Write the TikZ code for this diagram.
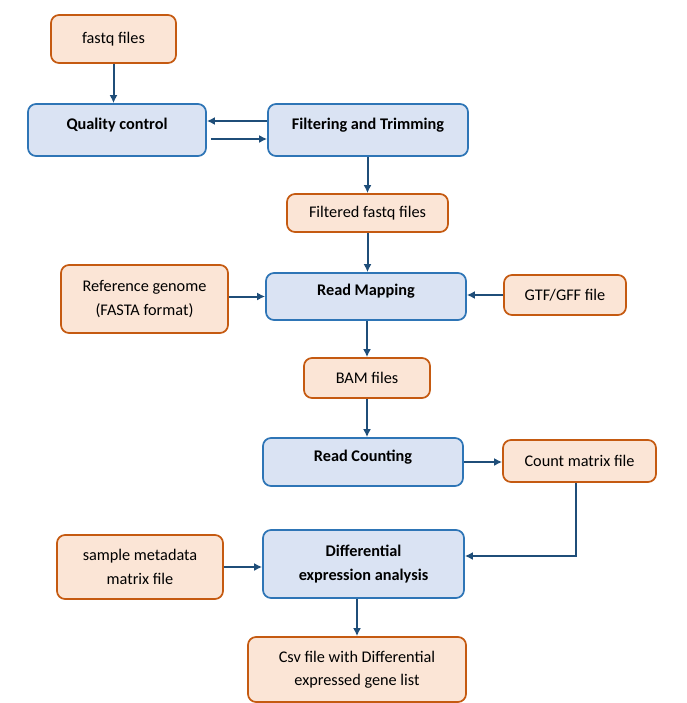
\documentclass[tikz,border=0pt]{standalone}
\usepackage{fontspec}
\setmainfont{Carlito}
\usepackage{tikz}
\usetikzlibrary{positioning}
\usetikzlibrary{arrows.meta}
\usetikzlibrary{calc}

\definecolor{filefill}{HTML}{FBE5D6}
\definecolor{filedraw}{HTML}{C55A11}
\definecolor{stepfill}{HTML}{DAE3F3}
\definecolor{stepdraw}{HTML}{2E75B6}
\definecolor{flowcol}{HTML}{1F4E79}

\tikzset{
  filebox/.style={draw=filedraw, fill=filefill, line width=1.3pt, rounded corners=6pt,
    inner sep=0pt, align=center, font=\fontsize{12.2}{17.5}\selectfont},
  stepbox/.style={draw=stepdraw, fill=stepfill, line width=1.3pt, rounded corners=6pt,
    inner sep=0pt, align=center, font=\fontsize{12.2}{18}\selectfont\bfseries},
  uptext/.style={text height=8.5pt, text depth=9.5pt},
  flow/.style={draw=flowcol, line width=1.5pt, -{Latex[length=6pt,width=6pt]}}
}

\begin{document}
\begin{tikzpicture}[x=0.75pt, y=-0.75pt]
  \useasboundingbox (0,0) rectangle (686,703);

  % input files and steps
  \node[filebox, minimum width=93.75pt, minimum height=36pt] (fastq) at (113.5,39) {fastq files};
  \node[stepbox, uptext, minimum width=133.5pt, minimum height=39pt] (qc) at (117,130) {Quality control};
  \node[stepbox, uptext, minimum width=150pt, minimum height=39pt] (filt) at (368,130) {Filtering and Trimming};
  \node[filebox, minimum width=120.75pt, minimum height=28.5pt] (filtered) at (367.5,213) {Filtered fastq files};
  \node[filebox, minimum width=125.25pt, minimum height=51pt] (ref) at (144.5,299) {Reference genome\\(FASTA format)};
  \node[stepbox, uptext, minimum width=150pt, minimum height=35.25pt] (map) at (366,296.5) {Read Mapping};
  \node[filebox, minimum width=91.5pt, minimum height=30pt] (gtf) at (565,295) {GTF/GFF file};
  \node[filebox, minimum width=94.5pt, minimum height=30pt] (bam) at (367,378) {BAM files};
  \node[stepbox, uptext, minimum width=150pt, minimum height=36pt] (count) at (363,462) {Read Counting};
  \node[filebox, minimum width=114.75pt, minimum height=31.5pt] (cmat) at (579.5,461) {Count matrix file};
  \node[stepbox, minimum width=150.75pt, minimum height=51pt] (de) at (363.5,564) {Differential\\expression analysis};
  \node[filebox, minimum width=124.5pt, minimum height=48pt] (meta) at (140,567) {sample metadata\\matrix file};
  \node[filebox, minimum width=163.5pt, minimum height=48.75pt] (csv) at (357,669.5) {Csv file with Differential\\expressed gene list};

  % connectors
  \draw[flow] (fastq.south) -- (fastq.south |- qc.north);
  \draw[flow] ([yshift=6.75pt]filt.west) -- ([yshift=6.75pt]qc.east);
  \draw[flow] ([xshift=3pt,yshift=-6.75pt]qc.east) -- ([yshift=-6.75pt]filt.west);
  \draw[flow] (filt.south -| filtered.north) -- (filtered.north);
  \draw[flow] (filtered.south) -- (filtered.south |- map.north);
  \draw[flow] (ref.east |- map.west) -- (map.west);
  \draw[flow] (gtf.west) -- (gtf.west -| map.east);
  \draw[flow] (map.south -| bam.north) -- (bam.north);
  \draw[flow] (bam.south) -- (bam.south |- count.north);
  \draw[flow] (count.east) -- (count.east -| cmat.west);
  \draw[flow] ([xshift=-2.5pt]cmat.south) |- ([yshift=6pt]de.east);
  \draw[flow] (meta.east) -- (meta.east -| de.west);
  \draw[flow] (de.south -| csv.north) -- (csv.north);
\end{tikzpicture}
\end{document}
